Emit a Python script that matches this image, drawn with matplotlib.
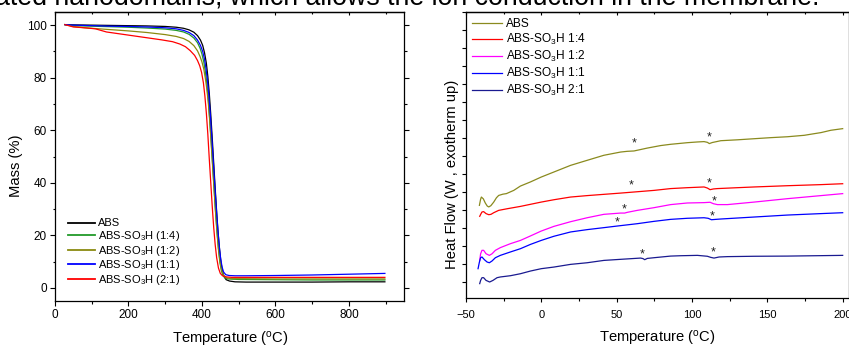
import matplotlib
matplotlib.use('Agg')
import matplotlib.pyplot as plt
from matplotlib.ticker import MultipleLocator

plt.rcParams['font.family'] = ['Liberation Sans', 'DejaVu Sans']
plt.rcParams['mathtext.fontset'] = 'custom'
plt.rcParams['mathtext.rm'] = 'Liberation Sans'
plt.rcParams['mathtext.it'] = 'Liberation Sans:italic'
plt.rcParams['mathtext.bf'] = 'Liberation Sans:bold'

# ---------------- TGA data (temperature in C, mass in %) ----------------
tga_labels = ['ABS', r'ABS-SO$_\mathregular{3}$H (1:4)', r'ABS-SO$_\mathregular{3}$H (1:2)',
              r'ABS-SO$_\mathregular{3}$H (1:1)', r'ABS-SO$_\mathregular{3}$H (2:1)']
tga_colors = ['#000000', '#229a2a', '#8a8a10', '#0000ff', '#ff0000']

abs_T = [27, 50, 100, 150, 200, 250, 300, 330, 350, 365, 378, 388, 396, 402, 407, 412, 416, 420, 424,
         428, 432, 436, 440, 444, 448, 452, 456, 460, 466, 475, 490, 520, 600, 700, 800, 898]
abs_m = [100.2, 100.1, 100.0, 99.9, 99.8, 99.7, 99.5, 99.2, 98.8, 98.2, 97.3, 96.0, 94.3, 92.3, 89.5,
         85.5, 80.5, 74.0, 66.0, 57.0, 47.5, 38.0, 29.0, 21.0, 14.5, 9.5, 6.2, 4.3, 3.1, 2.6, 2.3, 2.2,
         2.2, 2.2, 2.3, 2.3]

s14_T = [27, 50, 100, 150, 200, 250, 300, 330, 350, 365, 378, 388, 395, 400, 405, 409, 413, 417, 421,
         425, 429, 433, 437, 441, 445, 449, 453, 457, 463, 471, 485, 500, 600, 700, 800, 898]
s14_m = [100.2, 99.8, 99.6, 99.4, 99.2, 98.9, 98.5, 98.0, 97.4, 96.5, 95.1, 93.3, 91.2, 89.0, 86.0,
         82.5, 78.0, 72.0, 64.5, 56.0, 47.0, 38.0, 29.0, 21.0, 14.5, 9.6, 6.5, 4.8, 3.8, 3.4, 3.3, 3.2,
         3.1, 3.0, 3.0, 3.0]

s12_T = [27, 50, 80, 120, 160, 200, 250, 300, 330, 350, 365, 378, 388, 395, 400, 405, 409, 413, 417,
         421, 425, 429, 433, 437, 441, 445, 449, 453, 459, 467, 480, 500, 600, 700, 800, 898]
s12_m = [100.2, 99.5, 99.0, 98.6, 98.2, 97.8, 97.2, 96.4, 95.7, 94.9, 93.8, 92.2, 90.2, 88.0, 86.0,
         83.3, 80.0, 76.0, 71.0, 64.0, 55.5, 46.5, 37.5, 29.0, 21.5, 15.0, 10.2, 7.0, 4.8, 3.8, 3.5,
         3.5, 3.4, 3.4, 3.4, 3.4]

s11_T = [27, 50, 100, 150, 200, 250, 300, 330, 350, 365, 378, 388, 396, 402, 407, 411, 415, 419, 423,
         427, 431, 435, 439, 443, 447, 451, 455, 459, 465, 474, 490, 520, 600, 700, 800, 898]
s11_m = [100.2, 100.0, 99.8, 99.6, 99.5, 99.3, 99.0, 98.6, 98.0, 97.2, 96.0, 94.3, 92.3, 90.0, 87.0,
         83.5, 79.0, 73.0, 65.5, 57.0, 48.0, 39.0, 30.5, 22.5, 16.0, 11.0, 7.8, 6.0, 5.0, 4.7, 4.6,
         4.6, 4.7, 4.9, 5.2, 5.5]

s21_T = [27, 50, 80, 110, 125, 140, 170, 200, 230, 260, 290, 320, 340, 355, 368, 380, 388, 394, 399,
         404, 408, 412, 416, 420, 424, 428, 432, 436, 440, 445, 450, 456, 465, 480, 600, 700, 800, 898]
s21_m = [100.2, 99.3, 99.0, 98.6, 98.0, 97.4, 96.8, 96.2, 95.6, 95.0, 94.4, 93.7, 92.8, 91.8, 90.3,
         88.5, 86.5, 84.5, 82.0, 78.0, 73.0, 66.5, 58.5, 49.0, 40.0, 31.0, 23.0, 16.5, 11.5, 7.5, 5.5,
         4.6, 4.2, 4.0, 4.0, 4.0, 4.0, 4.0]

# ---------------- DSC data (temperature in C, heat flow in arbitrary units) ----------------
dsc_labels = ['ABS', r'ABS-SO$_\mathregular{3}$H 1:4', r'ABS-SO$_\mathregular{3}$H 1:2',
              r'ABS-SO$_\mathregular{3}$H 1:1', r'ABS-SO$_\mathregular{3}$H 2:1']
dsc_colors = ['#8a8a1e', '#ff0000', '#ff00ff', '#0000ff', '#1a1a90']

dabs_x = [-41.1, -40.3, -39.8, -38.5, -37.2, -35.9, -34.9, -33.5, -31.6, -29.8, -28.3, -25.5, -23.2,
          -18.3, -13.9, -7.2, -0.1, 8.3, 19.4, 30.4, 41.5, 52.6, 57.0, 61.5, 65.9, 70.3, 79.2, 85.8,
          96.9, 103.6, 108.0, 110.2, 111.5, 113.5, 116.9, 119.1, 130.2, 141.2, 152.3, 163.4, 174.5,
          181.1, 185.6, 192.2, 200.0]
dabs_y = [4.26, 4.60, 4.72, 4.62, 4.39, 4.22, 4.17, 4.24, 4.44, 4.68, 4.81, 4.88, 4.91, 5.09, 5.33,
          5.56, 5.83, 6.11, 6.48, 6.76, 7.04, 7.22, 7.26, 7.28, 7.36, 7.44, 7.58, 7.65, 7.74, 7.78,
          7.80, 7.76, 7.69, 7.75, 7.81, 7.85, 7.90, 7.96, 8.02, 8.07, 8.15, 8.24, 8.30, 8.43, 8.52]

d14_x = [-40.9, -40.0, -39.4, -38.3, -36.7, -34.9, -33.4, -31.6, -28.3, -22.7, -13.9, -0.1, 8.3, 19.4,
         30.4, 41.5, 52.6, 61.5, 74.8, 85.8, 96.9, 108.0, 110.2, 112.0, 114.2, 116.9, 130.2, 141.2,
         163.4, 185.6, 200.0]
d14_y = [3.65, 3.80, 3.89, 3.91, 3.80, 3.74, 3.76, 3.85, 3.98, 4.07, 4.20, 4.44, 4.57, 4.72, 4.80,
         4.87, 4.94, 5.00, 5.09, 5.19, 5.24, 5.28, 5.22, 5.13, 5.17, 5.19, 5.24, 5.28, 5.35, 5.41, 5.46]

d12_x = [-40.9, -40.3, -39.4, -38.3, -36.7, -34.5, -32.7, -30.5, -27.2, -20.5, -13.9, -7.2, -0.1, 8.3,
         19.4, 30.4, 41.5, 52.6, 55.3, 57.0, 63.7, 74.8, 85.8, 96.9, 108.0, 112.0, 114.2, 116.9, 123.5,
         141.2, 163.4, 185.6, 200.0]
d12_y = [1.20, 1.57, 1.76, 1.76, 1.57, 1.48, 1.57, 1.76, 1.91, 2.13, 2.31, 2.56, 2.83, 3.09, 3.35,
         3.57, 3.76, 3.83, 3.83, 3.87, 3.98, 4.13, 4.30, 4.39, 4.41, 4.43, 4.35, 4.30, 4.30, 4.44,
         4.63, 4.80, 4.91]

d11_x = [-42.0, -41.1, -40.3, -39.4, -37.8, -36.0, -34.5, -32.7, -30.5, -27.2, -20.5, -13.9, -7.2,
         -0.1, 8.3, 19.4, 30.4, 41.5, 50.4, 63.7, 74.8, 85.8, 96.9, 108.0, 110.7, 112.9, 115.8, 119.1,
         141.2, 163.4, 185.6, 200.0]
d11_y = [0.74, 1.11, 1.35, 1.39, 1.24, 1.11, 1.07, 1.17, 1.35, 1.48, 1.67, 1.85, 2.09, 2.31, 2.54,
         2.78, 2.91, 3.02, 3.11, 3.24, 3.37, 3.48, 3.54, 3.57, 3.54, 3.46, 3.48, 3.50, 3.61, 3.72,
         3.80, 3.85]

d21_x = [-40.9, -40.3, -39.4, -38.3, -36.7, -34.3, -32.1, -29.4, -27.2, -20.5, -13.9, -7.2, -0.1, 8.3,
         19.4, 30.4, 41.5, 52.6, 65.9, 67.5, 68.6, 70.3, 74.8, 85.8, 92.5, 103.6, 110.2, 112.4, 114.6,
         118.0, 123.5, 141.2, 163.4, 200.0]
d21_y = [-0.09, 0.09, 0.24, 0.24, 0.09, 0.00, 0.09, 0.24, 0.28, 0.35, 0.46, 0.61, 0.74, 0.83, 0.98,
         1.07, 1.20, 1.26, 1.33, 1.30, 1.24, 1.31, 1.35, 1.44, 1.46, 1.48, 1.43, 1.37, 1.33, 1.39,
         1.41, 1.43, 1.44, 1.48]

star_x = [61.5, 111.5, 59.7, 111.1, 55.0, 114.6, 50.6, 113.1, 67.2, 114.2]
star_y = [7.69, 8.02, 5.37, 5.46, 4.02, 4.48, 3.31, 3.63, 1.52, 1.63]

header = 'ated nanodomains, which allows the ion conduction in the membrane.'

# ---------------- figure ----------------
W, H = 849, 345
fig = plt.figure(figsize=(W / 100, H / 100), dpi=100)


def fx(px):
    return px / W


def fy(py):
    return 1 - py / H


# header text (partially cut at the top)
fig.text(fx(-5), fy(5), header, fontsize=19.3, ha='left', va='baseline', color='black')

# ---------- left panel: TGA ----------
ax1 = fig.add_axes([fx(55), fy(301), fx(404 - 55), (301 - 12) / H])
for T, m, c, lab in zip([abs_T, s14_T, s12_T, s11_T, s21_T], [abs_m, s14_m, s12_m, s11_m, s21_m],
                        tga_colors, tga_labels):
    ax1.plot(T, m, color=c, lw=0.9, label=lab)
ax1.set_xlim(0, 950)
ax1.set_ylim(-5, 105)
ax1.xaxis.set_major_locator(MultipleLocator(200))
ax1.xaxis.set_minor_locator(MultipleLocator(100))
ax1.yaxis.set_major_locator(MultipleLocator(20))
ax1.yaxis.set_minor_locator(MultipleLocator(10))
ax1.tick_params(which='both', direction='out', right=True, labelsize=8.5, width=0.8)
ax1.tick_params(which='major', length=3.3, pad=2.5)
ax1.tick_params(which='minor', length=1.8)
sec1 = ax1.secondary_xaxis('top')
sec1.xaxis.set_major_locator(MultipleLocator(200))
sec1.xaxis.set_minor_locator(MultipleLocator(100))
sec1.tick_params(which='both', direction='in', labeltop=False, width=0.8)
sec1.tick_params(which='major', length=2.5)
sec1.tick_params(which='minor', length=1.5)
for sp in list(ax1.spines.values()) + list(sec1.spines.values()):
    sp.set_linewidth(0.9)
ax1.set_xlabel(r'Temperature ($^\mathregular{o}$C)', fontsize=10.6)
ax1.xaxis.label.set_va('baseline')
ax1.xaxis.set_label_coords(0.501, (301 - 343.8) / 289)
ax1.set_ylabel('Mass (%)', fontsize=10.6)
ax1.yaxis.label.set_va('center')
ax1.yaxis.set_label_coords((16 - 55) / 349, (301 - 166) / 289)
leg1 = ax1.legend(loc='upper left', bbox_to_anchor=(fx(68.3), fy(218.5)),
                  bbox_transform=fig.transFigure, frameon=False, fontsize=8, handlelength=2.43,
                  handletextpad=0.25, labelspacing=0.05, borderpad=0, borderaxespad=0)
for ln in leg1.get_lines():
    ln.set_linewidth(1.3)

# ---------- right panel: DSC ----------
ax2 = fig.add_axes([fx(466), fy(298.3), fx(849.3 - 466), (298.3 - 12) / H])
for xs, ys, c, lab in zip([dabs_x, d14_x, d12_x, d11_x, d21_x], [dabs_y, d14_y, d12_y, d11_y, d21_y],
                          dsc_colors, dsc_labels):
    ax2.plot(xs, ys, color=c, lw=0.9, label=lab)
for sx, sy in zip(star_x, star_y):
    ax2.text(sx, sy, '*', fontsize=9, ha='center', va='center', color='#222222')
ax2.set_xlim(-50, 204.4)
ax2.set_ylim(-0.905, 15.0)
ax2.xaxis.set_major_locator(MultipleLocator(50))
ax2.xaxis.set_minor_locator(MultipleLocator(25))
ax2.yaxis.set_major_locator(MultipleLocator(1))
ax2.tick_params(which='both', direction='out', right=True, labelleft=False, labelsize=8, width=0.8)
ax2.tick_params(which='major', length=3.0, pad=5.5)
ax2.tick_params(which='minor', length=2.0)
sec2 = ax2.secondary_xaxis('top')
sec2.xaxis.set_major_locator(MultipleLocator(50))
sec2.xaxis.set_minor_locator(MultipleLocator(25))
sec2.tick_params(which='both', direction='in', labeltop=False, width=0.8)
sec2.tick_params(which='major', length=2.5)
sec2.tick_params(which='minor', length=1.5)
for sp in list(ax2.spines.values()) + list(sec2.spines.values()):
    sp.set_linewidth(0.9)
ax2.set_xlabel(r'Temperature ($^\mathregular{o}$C)', fontsize=10.6)
ax2.xaxis.label.set_va('baseline')
ax2.xaxis.set_label_coords((657.4 - 466) / 383.3, (298.3 - 342.2) / 286.3)
ax2.set_ylabel('Heat Flow (W , exotherm up)', fontsize=10.6)
ax2.yaxis.label.set_va('center')
ax2.yaxis.set_label_coords((451.7 - 466) / 383.3, (298.3 - 174) / 286.3)
ax2.legend(loc='upper left', bbox_to_anchor=(fx(471.7), fy(18.2)), bbox_transform=fig.transFigure,
           frameon=False, fontsize=8.6, handlelength=2.5, handletextpad=0.36, labelspacing=0.16,
           borderpad=0, borderaxespad=0)

fig.savefig('out.png', dpi=100)
